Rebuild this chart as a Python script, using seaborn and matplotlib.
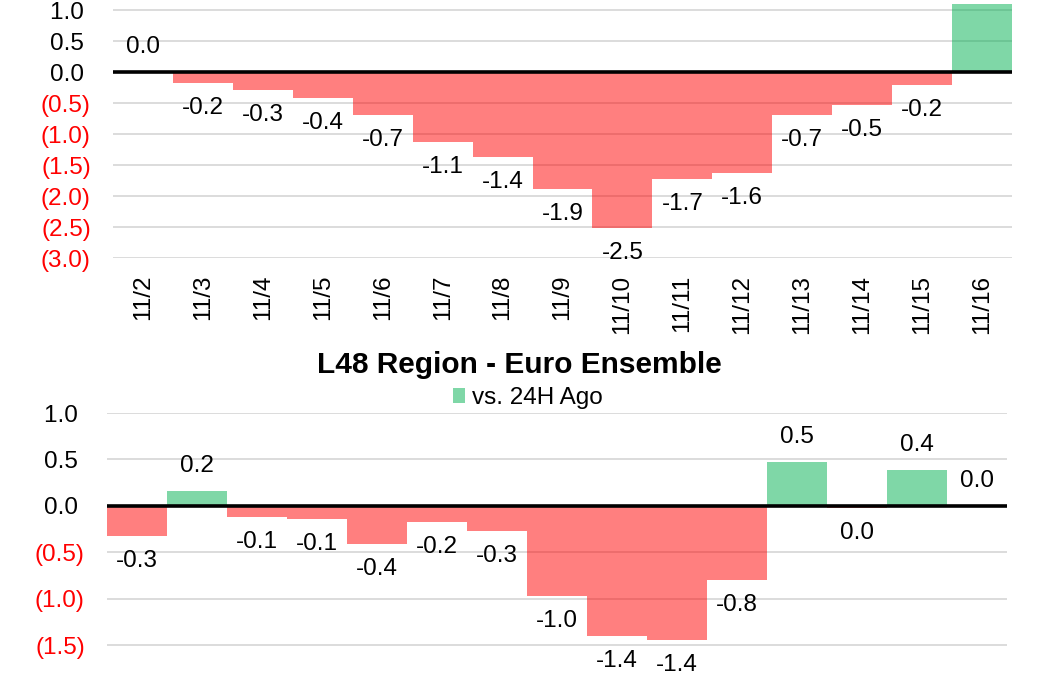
import matplotlib
matplotlib.use("Agg")
import matplotlib.pyplot as plt
import seaborn as sns
import pandas as pd
from matplotlib.patches import Patch
from matplotlib.ticker import FuncFormatter

sns.set_theme(style="white")
plt.rcParams['font.family'] = ['Liberation Sans', 'DejaVu Sans']
plt.rcParams['text.color'] = 'black'
plt.rcParams['xtick.color'] = 'black'
plt.rcParams['ytick.color'] = 'black'

# data
dates = ["11/2", "11/3", "11/4", "11/5", "11/6", "11/7", "11/8", "11/9",
         "11/10", "11/11", "11/12", "11/13", "11/14", "11/15", "11/16"]
top_vals = [0.0, -0.18, -0.29, -0.42, -0.69, -1.13, -1.37, -1.89,
            -2.52, -1.73, -1.63, -0.69, -0.53, -0.21, 1.35]
bottom_vals = [-0.32, 0.16, -0.12, -0.14, -0.41, -0.17, -0.27, -0.97,
               -1.40, -1.44, -0.80, 0.47, -0.02, 0.39, 0.0]
title_bottom = "L48 Region - Euro Ensemble"
legend_label = "vs. 24H Ago"

GREEN = "#00B050"
RED = "#FF0000"
FS = 17.5


def fmt_y(v, pos):
    # excel style 0.0_);(0.0)
    if v < -1e-9:
        return f"({-v:.1f})"
    return f"{abs(v):.1f} "


def fmt_label(v):
    if abs(v) < 0.05:
        return "0.0"
    return f"{v:.1f}"


def draw(ax, vals, ylim, yticks):
    df = pd.DataFrame({"date": dates, "val": vals})
    colors = [GREEN if v >= 0 else RED for v in vals]
    sns.barplot(data=df, x="date", y="val", hue="date", palette=colors,
                legend=False, width=1.0, alpha=0.5, saturation=1,
                linewidth=0, ax=ax)
    ax.set_ylim(*ylim)
    ax.set_xlim(-0.5, len(dates) - 0.5)
    ax.set_yticks(yticks)
    ax.yaxis.set_major_formatter(FuncFormatter(fmt_y))
    ax.yaxis.grid(True, color="#D9D9D9", lw=1.3)
    ax.set_axisbelow(True)
    ax.axhline(0, color="black", lw=2.6, zorder=3)
    for s in ax.spines.values():
        s.set_visible(False)
    ax.set_xlabel("")
    ax.set_ylabel("")
    ax.tick_params(axis="y", length=0, pad=16, labelsize=FS)
    ax.tick_params(axis="x", length=0, labelsize=FS, labelcolor="black")
    for lab in ax.get_yticklabels():
        txt = lab.get_text()
        lab.set_color("red" if txt.startswith("(") else "black")
    for i, v in enumerate(vals):
        off = 18 if v >= 0 else -18
        ax.annotate(fmt_label(v), (i, v), xytext=(0, off),
                    textcoords="offset points", ha="center", va="center",
                    fontsize=FS, color="black")


fig = plt.figure(figsize=(10.44, 6.75), dpi=100)

ax1 = fig.add_axes([113 / 1044, (675 - 258) / 675, 899 / 1044, 254 / 675])
draw(ax1, top_vals, (-3.0, 1.1), [-3.0, -2.5, -2.0, -1.5, -1.0, -0.5, 0.0, 0.5, 1.0])
ax1.tick_params(axis="x", rotation=90, pad=12)

ax2 = fig.add_axes([107 / 1044, (675 - 678) / 675, 900 / 1044, 265 / 675])
draw(ax2, bottom_vals, (-1.85, 1.0), [-1.5, -1.0, -0.5, 0.0, 0.5, 1.0])
ax2.set_xticklabels([])

fig.text(519 / 1044, 1 - 365 / 675, title_bottom, ha="center", va="center",
         fontsize=21.5, fontweight="bold", color="black")
fig.legend(handles=[Patch(facecolor=GREEN, alpha=0.5, edgecolor="none",
                          label=legend_label)],
           loc="center", bbox_to_anchor=(528 / 1044, 1 - 398 / 675),
           frameon=False, fontsize=FS, handlelength=0.5, handleheight=0.6,
           handletextpad=0.3, borderpad=0, labelcolor="black")

fig.savefig("out.png", dpi=100)
